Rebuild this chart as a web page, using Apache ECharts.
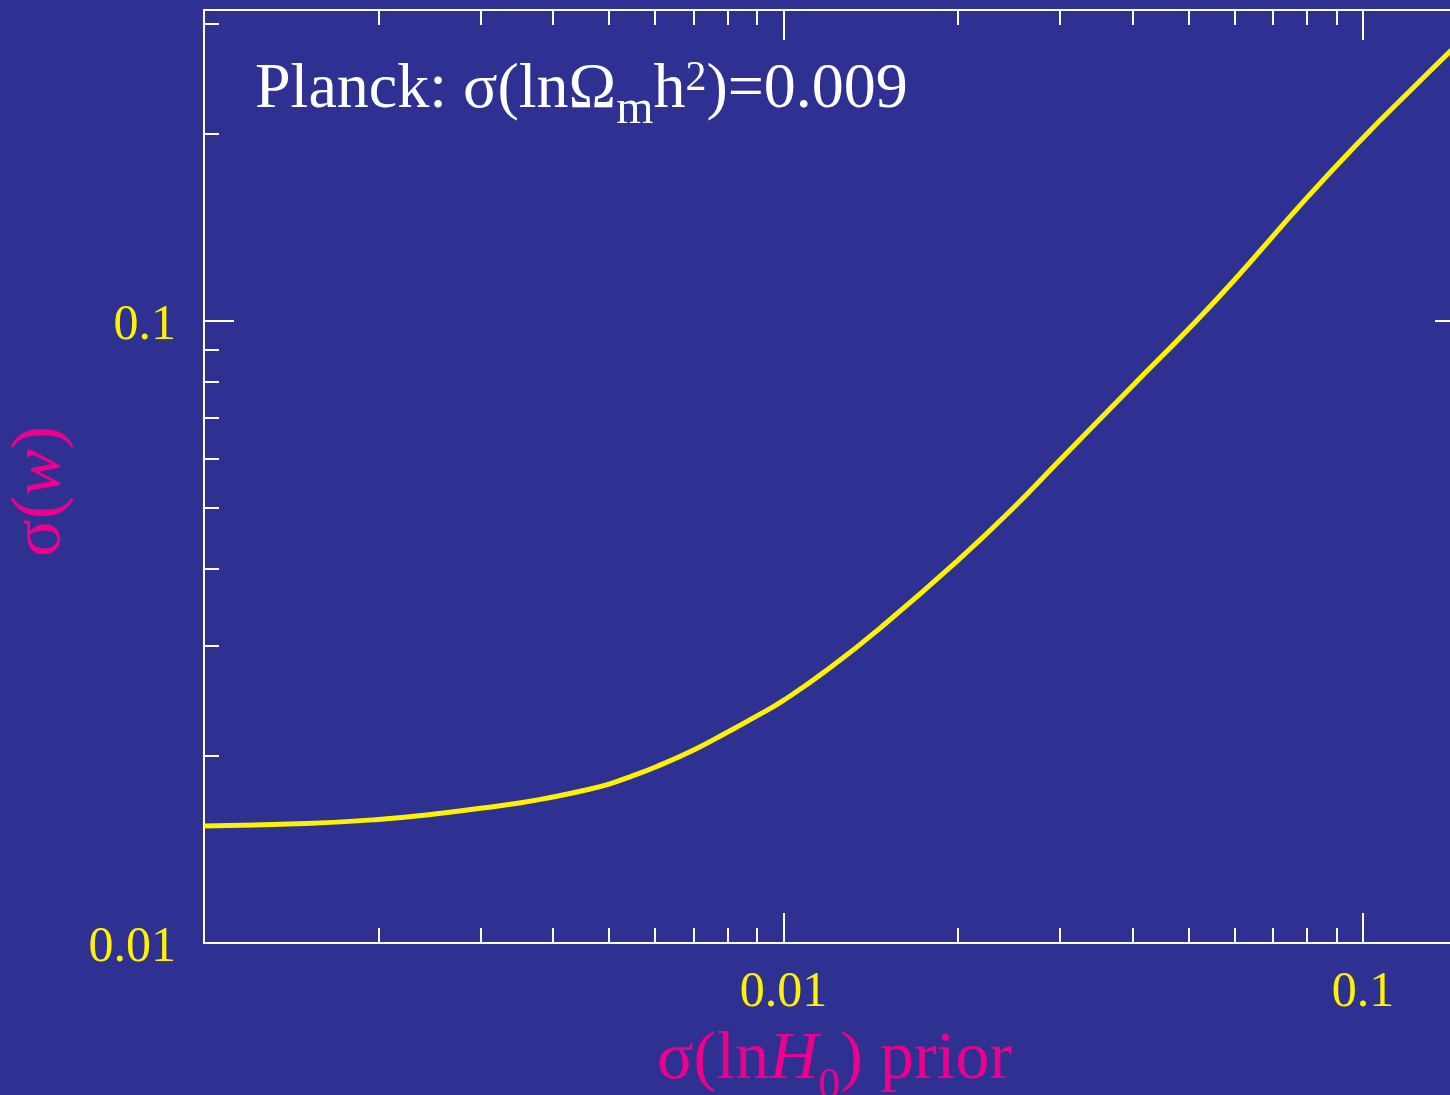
<!DOCTYPE html>
<html>
<head>
<meta charset="utf-8">
<script src="https://cdn.jsdelivr.net/npm/echarts@6/dist/echarts.min.js"></script>
<style>
html,body{margin:0;padding:0;background:#2E3192;}
#chart{width:1450px;height:1095px;}
</style>
</head>
<body>
<div id="chart"></div>
<script>
// ---- data ----
const priorSigma = [0.001, 0.0015, 0.002, 0.0025, 0.003, 0.0035, 0.004, 0.0045, 0.005, 0.0055, 0.006, 0.007, 0.008, 0.009, 0.01, 0.012, 0.015, 0.02, 0.025, 0.03, 0.04, 0.05, 0.06, 0.08, 0.1, 0.12, 0.15];
const sigmaW     = [0.01542, 0.01556, 0.01580, 0.01612, 0.01647, 0.01679, 0.01717, 0.01757, 0.01801, 0.01858, 0.01917, 0.02043, 0.02182, 0.02318, 0.02455, 0.02764, 0.03263, 0.04123, 0.05019, 0.05977, 0.07862, 0.09708, 0.1164, 0.1577, 0.1969, 0.2334, 0.2861];

const xMajorTicks = [0.01, 0.1];
const xMinorTicks = [0.002, 0.003, 0.004, 0.005, 0.006, 0.007, 0.008, 0.009, 0.02, 0.03, 0.04, 0.05, 0.06, 0.07, 0.08, 0.09];
const yMajorTicks = [0.01, 0.1];
const yMinorTicks = [0.02, 0.03, 0.04, 0.05, 0.06, 0.07, 0.08, 0.09, 0.2, 0.3];
const xTickLabels = ['0.01', '0.1'];
const yTickLabels = ['0.01', '0.1'];

const xRange = [0.001, 0.15];
const yRange = [0.01, 0.3162];

// ---- styles ----
const BG = '#2E3192';
const YELLOW = '#FFF200';
const MAGENTA = '#EC008C';
const SERIF = '"Liberation Serif", "Times New Roman", "DejaVu Serif", serif';
const lineStyle = {color: '#FFFFFF', width: 2};

function labelFmt(values, labels) {
  return function (v) {
    for (let i = 0; i < values.length; i++) {
      if (Math.abs(Math.log10(v) - Math.log10(values[i])) < 1e-6) return labels[i];
    }
    return '';
  };
}

function tok(color, size, lh, va, extra) {
  return Object.assign({color: color, fontFamily: SERIF, fontSize: size, lineHeight: lh, verticalAlign: va}, extra || {});
}

function makeX(position, major, withLabels) {
  const ax = {
    type: 'log', logBase: 10, min: xRange[0], max: xRange[1], position: position,
    axisLine: {show: true, lineStyle: lineStyle},
    axisTick: {show: true, inside: true, length: major ? 30 : 15, lineStyle: lineStyle,
               customValues: major ? xMajorTicks : xMinorTicks},
    axisLabel: {show: !!withLabels},
    splitLine: {show: false}, minorTick: {show: false}, minorSplitLine: {show: false}
  };
  if (withLabels) {
    ax.axisLabel = {show: true, customValues: xMajorTicks, formatter: labelFmt(xMajorTicks, xTickLabels),
      color: YELLOW, fontFamily: SERIF, fontSize: 50, margin: 25};
    ax.name = '{n|σ(ln}{i|H}{sub|0}{n|) prior}';
    ax.nameLocation = 'middle';
    ax.nameGap = 83;
    ax.nameMoveOverlap = false;
    ax.nameTextStyle = {
      color: MAGENTA, fontFamily: SERIF, fontSize: 68, lineHeight: 68, verticalAlign: 'top',
      rich: {
        n: tok(MAGENTA, 68, 68, 'top'),
        i: tok(MAGENTA, 68, 68, 'top', {fontStyle: 'italic'}),
        sub: tok(MAGENTA, 44, 82, 'bottom')
      }
    };
  }
  return ax;
}

function makeY(position, major, withLabels) {
  const ax = {
    type: 'log', logBase: 10, min: yRange[0], max: yRange[1], position: position,
    axisLine: {show: true, lineStyle: lineStyle},
    axisTick: {show: true, inside: true, length: major ? 30 : 15, lineStyle: lineStyle,
               customValues: major ? yMajorTicks : yMinorTicks},
    axisLabel: {show: !!withLabels},
    splitLine: {show: false}, minorTick: {show: false}, minorSplitLine: {show: false}
  };
  if (withLabels) {
    ax.axisLabel = {show: true, customValues: yMajorTicks, formatter: labelFmt(yMajorTicks, yTickLabels),
      color: YELLOW, fontFamily: SERIF, fontSize: 50, margin: 28, verticalAlign: 'top', lineHeight: 10};
    ax.name = '{n|σ(}{i|w}{n|)}';
    ax.nameLocation = 'middle';
    ax.nameRotate = 90;
    ax.nameGap = 128;
    ax.nameMoveOverlap = false;
    ax.nameTextStyle = {
      color: MAGENTA, fontFamily: SERIF, fontSize: 70, lineHeight: 70, padding: [0, 30, 0, 0],
      rich: {
        n: tok(MAGENTA, 70, 70, 'middle'),
        i: tok(MAGENTA, 70, 70, 'middle', {fontStyle: 'italic'})
      }
    };
  }
  return ax;
}

const chart = echarts.init(document.getElementById('chart'), null, {renderer: 'canvas'});
chart.setOption({
  backgroundColor: BG,
  animation: false,
  title: {
    text: '{n|Planck: σ(lnΩ}{sub|m}{n|h}{sup|2}{n|)=0.009}',
    left: 255, top: 58, padding: 0,
    textStyle: {
      color: '#FFFFFF', fontFamily: SERIF, fontSize: 64, fontWeight: 'normal', lineHeight: 64, verticalAlign: 'top',
      rich: {
        n: tok('#FFFFFF', 64, 64, 'top'),
        sub: tok('#FFFFFF', 48, 76, 'bottom'),
        sup: tok('#FFFFFF', 42, 42, 'top')
      }
    }
  },
  grid: {left: 204, top: 10, width: 1261, height: 933, containLabel: false, outerBoundsMode: 'none'},
  xAxis: [makeX('bottom', true, true), makeX('bottom', false, false), makeX('top', true, false), makeX('top', false, false)],
  yAxis: [makeY('left', true, true), makeY('left', false, false), makeY('right', true, false), makeY('right', false, false)],
  series: [{
    type: 'line',
    xAxisIndex: 0, yAxisIndex: 0,
    data: priorSigma.map((x, i) => [x, sigmaW[i]]),
    smooth: 0.5,
    showSymbol: false,
    symbol: 'none',
    clip: true,
    lineStyle: {color: YELLOW, width: 5}
  }]
});
</script>
</body>
</html>
